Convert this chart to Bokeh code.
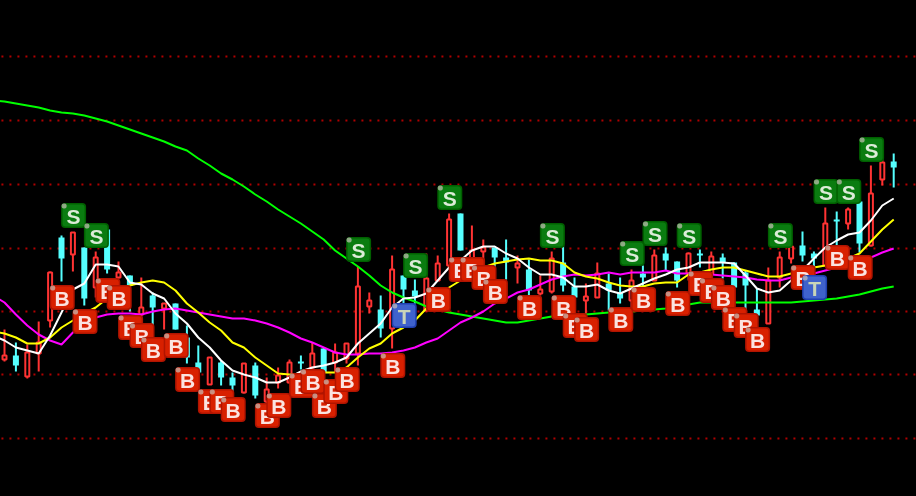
from bokeh.plotting import figure
from bokeh.models import Range1d, ColumnDataSource
from bokeh.core.properties import value
from bokeh.embed import file_html
from bokeh.resources import INLINE

# Candles (vertical scale = picture rows, inverted range)
red_idx = [0,2,3,4,6,8,10,12,14,18,21,23,24,25,27,29,30,31,32,34,37,38,39,41,42,45,47,48,51,52,55,57,60,62,67,68,69,72,74,76,77]
high = [329,342,344,321,271,235,232,247,251,229,261,275,277,292,303,303,325,345,357,360,372,363,362,377,367,359,355,342,347,343,343,266,292,295,255,275,279,253,255,213,213,225,239,247,239,255,259,275,251,245,277,283,262,273,277,269,265,249,247,261,252,249,251,253,262,270,288,267,251,245,231,251,207,211,207,201,165,159,153]
low = [361,371,378,371,327,281,271,305,297,273,278,311,321,325,329,329,363,378,384,385,392,393,398,410,388,383,369,370,373,372,363,365,313,337,348,303,303,300,280,267,250,265,263,267,279,283,300,295,293,291,306,313,297,310,303,308,293,280,270,287,280,267,273,278,287,310,315,323,287,263,261,268,265,245,229,252,246,185,187]
body_top = [355,355,352,342,272,237,232,247,257,229,272,275,307,295,303,303,337,362,357,362,377,363,365,389,375,362,361,353,348,352,343,286,300,309,269,275,290,278,263,219,213,250,247,247,257,263,269,289,258,262,286,296,273,283,292,280,273,255,253,261,253,253,256,257,262,272,309,280,257,246,245,253,223,219,209,201,193,162,161]
body_bot = [359,365,376,353,320,258,254,298,287,269,277,285,314,307,308,329,357,372,384,377,385,392,395,401,382,382,363,367,372,362,358,353,306,328,328,289,296,310,280,265,250,262,251,257,262,267,290,293,291,285,297,300,297,290,298,300,277,280,260,280,273,255,273,262,287,285,315,323,277,258,255,258,265,221,223,243,245,179,167]

# Moving averages (first value belongs to the bar just off the left edge)
ma_white = [335,340,347,350,353,335,312,289,283,264,264,266,282,284,293,298,313,323,337,347,360,370,374,377,382,382,377,371,367,365,362,357,343,333,323,307,298,297,293,280,267,260,250,246,246,253,258,267,274,274,277,286,286,284,290,293,288,283,278,274,269,267,262,262,262,263,275,288,292,290,280,270,258,247,240,234,232,220,205,198]
ma_yellow = [331,333,337,343,343,337,327,320,313,307,298,290,285,282,280,282,290,303,312,322,330,342,347,357,365,373,374,374,373,372,372,367,357,348,343,333,327,320,308,297,287,280,272,267,263,261,259,258,260,260,263,272,276,278,282,285,286,286,283,282,282,274,272,269,267,267,270,273,276,276,273,270,267,265,262,258,253,241,229,219]
ma_magenta = [295,302,314,325,334,340,344,332,322,317,314,313,313,314,311,309,308,310,312,314,316,318,318,320,323,327,332,338,342,347,352,354,354,353,353,352,350,347,342,338,330,322,317,311,303,298,292,289,284,279,276,274,275,274,272,274,272,272,272,270,273,273,273,274,275,276,277,279,280,280,277,275,273,270,267,264,260,257,252,248]
ma_green = [100,101,103,105,107,110,112,113,115,118,121,125,129,133,137,141,146,150,158,165,173,179,186,194,201,209,216,223,231,239,250,258,266,275,285,292,297,301,306,309,312,314,316,318,320,322,322,320,318,316,315,315,314,313,312,311,311,310,309,308,306,304,302,302,302,302,302,302,302,302,302,301,300,299,298,296,294,291,288,286]

grid_levels = [56,120,184,248,311,374,438]

# Signal icons
b_bars = [5,7,9,10,11,12,13,15,16,18,19,20,23,24,26,27,28,29,30,34,38,40,41,42,43,46,49,50,51,54,56,59,61,62,63,64,65,66,70,73,75]
b_level = [297,321,290,297,327,335,349,345,379,401,401,409,415,405,385,381,405,391,379,365,299,269,269,277,291,307,307,325,329,319,299,303,283,290,297,319,325,339,277,257,267]
s_bars = [6,8,31,36,39,48,55,57,60,68,72,74,76]
s_level = [215,235,249,265,197,235,253,233,235,235,191,191,149]
t_bars = [35,71]
t_level = [315,287]

STEP, X0 = 11.4, 4
W, H = 916, 496
p = figure(width=W + 2, height=H + 2, output_backend="svg", toolbar_location=None,
           x_range=Range1d((-1 - X0) / STEP, (W + 1 - X0) / STEP), y_range=Range1d(H + 1, -1),
           x_axis_type=None, y_axis_type=None, min_border=0, outline_line_color=None,
           background_fill_color="black", border_fill_color="black")
p.grid.visible = False
p.styles = {"position": "fixed", "left": "-1px", "top": "-1px"}

bars = list(range(len(high)))
for g in grid_levels:
    p.line([-0.27, (W + 4 - X0) / STEP], [g, g], line_color="#b00000", line_width=2, line_dash="2 6")

RED, CYAN = "#ff3333", "#55ffff"
colors = [RED if i in red_idx else CYAN for i in bars]
src = ColumnDataSource(dict(x=bars, high=high, low=low, c=colors))
p.segment("x", "high", "x", "low", source=src, line_color="c", line_width=2)
red_src = ColumnDataSource(dict(x=red_idx, top=[body_top[i] for i in red_idx],
                                bot=[body_bot[i] for i in red_idx]))
cy = [i for i in bars if i not in red_idx]
cy_src = ColumnDataSource(dict(x=cy, top=[body_top[i] for i in cy], bot=[body_bot[i] for i in cy]))
p.vbar("x", 4 / STEP, "top", "bot", source=red_src, fill_color="black", line_color=RED, line_width=2)
p.vbar("x", 6 / STEP, "top", "bot", source=cy_src, fill_color=CYAN, line_color=None)

ma_x = [i - 1 for i in range(len(ma_white))]
for ma, col in ((ma_green, "#00ff00"), (ma_magenta, "#ff00ff"), (ma_yellow, "#ffff00"), (ma_white, "#ffffff")):
    p.line(ma_x, ma, line_color=col, line_width=2)

def icons(xs, ys, letter, dark, mid, txt):
    for x0, y in zip(xs, ys):  # one at a time so that each icon covers the one before it
        x = x0 + 0.7 / STEP
        p.rect([x], [y], width=25, height=25, width_units="screen", height_units="screen",
               fill_color=dark, line_color=None, border_radius=4)
        p.rect([x], [y], width=22, height=22, width_units="screen", height_units="screen",
               fill_color=mid, line_color=None, border_radius=3)
        p.rect([x - 9.5 / STEP], [y - 9.5], width=5, height=5, width_units="screen", height_units="screen",
               fill_color="#c8c0b8", fill_alpha=0.7, line_color=None, border_radius=2)
        p.text([x], [y], text=[letter], text_font=value("Liberation Sans"), text_font_size="21px",
               text_font_style="bold", text_color=txt, text_align="center", text_baseline="middle", y_offset=1)

icons(s_bars, s_level, "S", "#006000", "#0a7c10", "#dcecd8")
icons(b_bars, b_level, "B", "#b01400", "#d82000", "#fbe3e0")
icons(t_bars, t_level, "T", "#1f3fb0", "#3f62cc", "#c8d4b8")

open("out.html", "w").write(file_html(p, INLINE))
